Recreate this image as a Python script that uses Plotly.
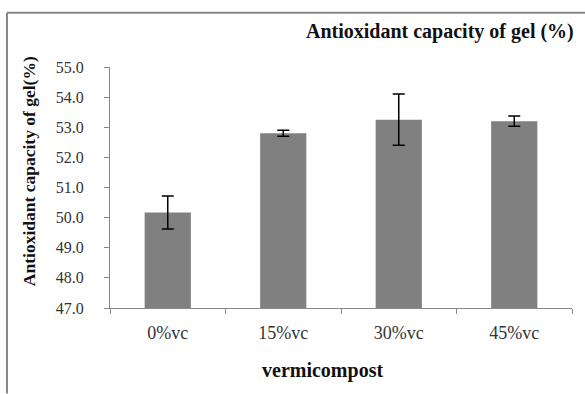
import plotly.graph_objects as go

categories = ["0%vc", "15%vc", "30%vc", "45%vc"]
values = [50.17, 52.8, 53.25, 53.2]
errors = [0.55, 0.1, 0.85, 0.17]
y_ticks = [47.0, 48.0, 49.0, 50.0, 51.0, 52.0, 53.0, 54.0, 55.0]

FONT = "Liberation Serif, Times New Roman, serif"

fig = go.Figure(go.Bar(
    x=categories, y=values,
    marker=dict(color="#808080", line=dict(width=0)),
    width=0.4,
    error_y=dict(type="data", array=errors, visible=True, color="#000000", thickness=1.5, width=6),
))

L, R, T, B = 110, 13, 66.5, 85.7
W, H = 585, 394
pw, ph = W - L - R, H - T - B

def px(xp):
    return (xp - L) / pw

def py(yp):
    return (H - B - yp) / ph

fig.update_layout(
    width=W, height=H,
    margin=dict(l=L, r=R, t=T, b=B, pad=0),
    paper_bgcolor="white", plot_bgcolor="white",
    showlegend=False,
    font=dict(family=FONT, color="#333333", size=16),
    bargap=0.6,
    xaxis=dict(
        type="category", showgrid=False, showline=True, linecolor="#888888", linewidth=1,
        ticks="outside", ticklen=5, tickcolor="#888888", tickson="boundaries",
        tickfont=dict(family=FONT, size=18, color="#333333"),
        ticklabelstandoff=8,
    ),
    yaxis=dict(
        range=[47, 55], tickvals=y_ticks, tickformat=".1f", showgrid=False,
        showline=True, linecolor="#888888", linewidth=1,
        ticks="outside", ticklen=5, tickcolor="#888888",
        tickfont=dict(family=FONT, size=16, color="#333333"),
        ticklabelstandoff=17,
        zeroline=False,
    ),
    annotations=[
        dict(text="<b>Antioxidant capacity of gel (%)</b>", xref="paper", yref="paper",
             x=px(440), y=py(31), xanchor="center", yanchor="middle", showarrow=False,
             font=dict(family=FONT, size=20, color="#111111")),
        dict(text="<b>vermicompost</b>", xref="paper", yref="paper",
             x=px(322), y=py(371), xanchor="center", yanchor="middle", showarrow=False,
             font=dict(family=FONT, size=20, color="#111111")),
        dict(text="<b>Antioxidant capacity of gel(%)</b>", xref="paper", yref="paper",
             x=px(29), y=py(171), xanchor="center", yanchor="middle", showarrow=False,
             textangle=-90, font=dict(family=FONT, size=17.5, color="#111111")),
    ],
    shapes=[
        dict(type="line", xref="paper", yref="paper", x0=px(7), x1=px(585), y0=py(12), y1=py(12),
             line=dict(color="#888888", width=2)),
        dict(type="line", xref="paper", yref="paper", x0=px(7), x1=px(7), y0=py(12), y1=py(394),
             line=dict(color="#888888", width=2)),
    ],
)

fig.write_html("out.html", config={"displayModeBar": False},
               post_script="document.body.style.margin='0';document.body.style.padding='0';")
